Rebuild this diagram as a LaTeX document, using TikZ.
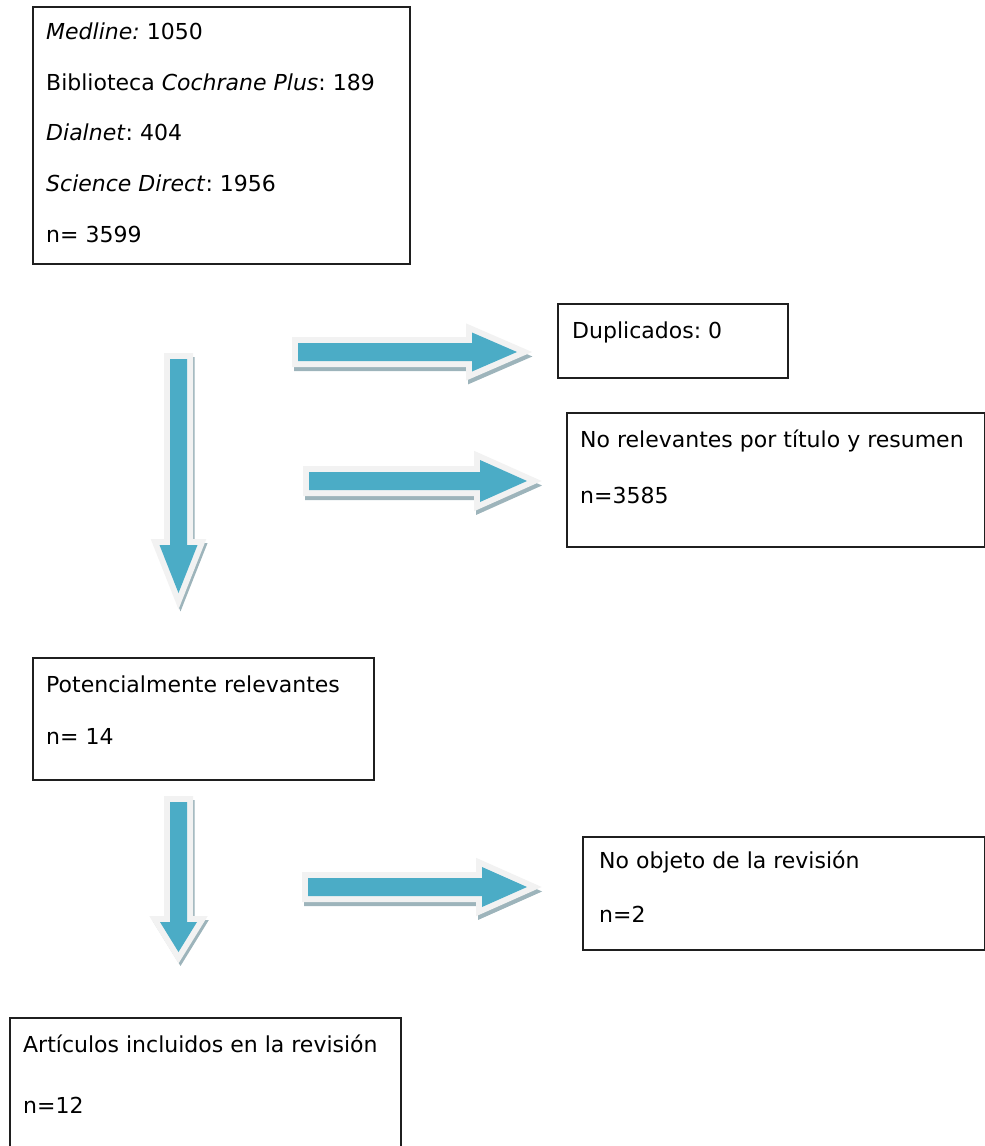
\documentclass[tikz,border=0pt]{standalone}
\usepackage{fontspec}
\setmainfont{DejaVu Sans}
\frenchspacing
\definecolor{arrblue}{HTML}{4BACC6}
\definecolor{arrline}{HTML}{F2F2F2}
\definecolor{arrshade}{HTML}{8CA7AF}
\tikzset{
  box/.style={draw=black!88, line width=1.6pt, rectangle, inner sep=0pt, anchor=north west},
  txt/.style={anchor=base west, inner sep=0pt, font=\fontsize{22}{26}\selectfont},
  arrshadow/.style={fill=arrshade, draw=arrshade, line width=11pt, miter limit=10, line join=miter, opacity=0.85},
  arroutline/.style={fill=arrline, draw=arrline, line width=12pt, miter limit=10, line join=miter},
  arrfill/.style={fill=arrblue},
}
% horizontal block arrow: x0, yc, xh, xt, head half-height
\newcommand\myharrow[5]{%
  \path[arrshadow, shift={(1.5,4.5)}] (#1,{#2-9}) -- (#3,{#2-9}) -- (#3,{#2-#5}) -- (#4,#2) -- (#3,{#2+#5}) -- (#3,{#2+9}) -- (#1,{#2+9}) -- cycle;
  \path[arroutline] (#1,{#2-9}) -- (#3,{#2-9}) -- (#3,{#2-#5}) -- (#4,#2) -- (#3,{#2+#5}) -- (#3,{#2+9}) -- (#1,{#2+9}) -- cycle;
  \path[arrfill] (#1,{#2-9}) -- (#3,{#2-9}) -- (#3,{#2-#5}) -- (#4,#2) -- (#3,{#2+#5}) -- (#3,{#2+9}) -- (#1,{#2+9}) -- cycle;
}
% vertical block arrow: xc, y0, yh, yt, head half-width
\newcommand\myvarrow[5]{%
  \path[arrshadow, shift={(2,3.5)}] ({#1-8.5},#2) -- ({#1-8.5},#3) -- ({#1-#5},#3) -- (#1,#4) -- ({#1+#5},#3) -- ({#1+8.5},#3) -- ({#1+8.5},#2) -- cycle;
  \path[arroutline] ({#1-8.5},#2) -- ({#1-8.5},#3) -- ({#1-#5},#3) -- (#1,#4) -- ({#1+#5},#3) -- ({#1+8.5},#3) -- ({#1+8.5},#2) -- cycle;
  \path[arrfill] ({#1-8.5},#2) -- ({#1-8.5},#3) -- ({#1-#5},#3) -- (#1,#4) -- ({#1+#5},#3) -- ({#1+8.5},#3) -- ({#1+8.5},#2) -- cycle;
}
\begin{document}
\begin{tikzpicture}[x=1pt, y=-1pt]
\useasboundingbox (0,0) rectangle (985,1146);
\clip (0,0) rectangle (985,1146);

% arrows
\myvarrow{178.5}{359}{545}{593}{19}
\myvarrow{178.5}{802}{922}{952}{18.5}
\myharrow{298}{352}{472}{517}{19.5}
\myharrow{309}{481}{480}{527}{21}
\myharrow{308}{887}{482}{527}{20}

% boxes
\node[box, minimum width=377pt, minimum height=257pt] (src) at (32,6) {};
\node[box, minimum width=230pt, minimum height=74pt] (dup) at (557,303) {};
\node[box, minimum width=418pt, minimum height=134pt] (norel) at (566,412) {};
\node[box, minimum width=341pt, minimum height=122pt] (pot) at (32,657) {};
\node[box, minimum width=402pt, minimum height=113pt] (noobj) at (582,836) {};
\node[box, minimum width=391pt, minimum height=160pt] (art) at (9,1017) {};

% texts
\node[txt] (s1) at (46,39) {\textit{Medline:} 1050};
\node[txt] (s2) at (46,90) {Biblioteca \textit{Cochrane Plus}: 189};
\node[txt] (s3) at (46,140) {\textit{Dialnet}: 404};
\node[txt] (s4) at (46,191) {\textit{Science Direct}: 1956};
\node[txt] (s5) at (46,242) {n= 3599};

\node[txt] (d1) at (572,338) {Duplicados: 0};

\node[txt] (r1) at (580,447) {No relevantes por título y resumen};
\node[txt] (r2) at (580,503) {n=3585};

\node[txt] (p1) at (46,692) {Potencialmente relevantes};
\node[txt] (p2) at (46,744) {n= 14};

\node[txt] (o1) at (599,868) {No objeto de la revisión};
\node[txt] (o2) at (599,922) {n=2};

\node[txt] (a1) at (23,1052) {Artículos incluidos en la revisión};
\node[txt] (a2) at (23,1113) {n=12};
\end{tikzpicture}
\end{document}
